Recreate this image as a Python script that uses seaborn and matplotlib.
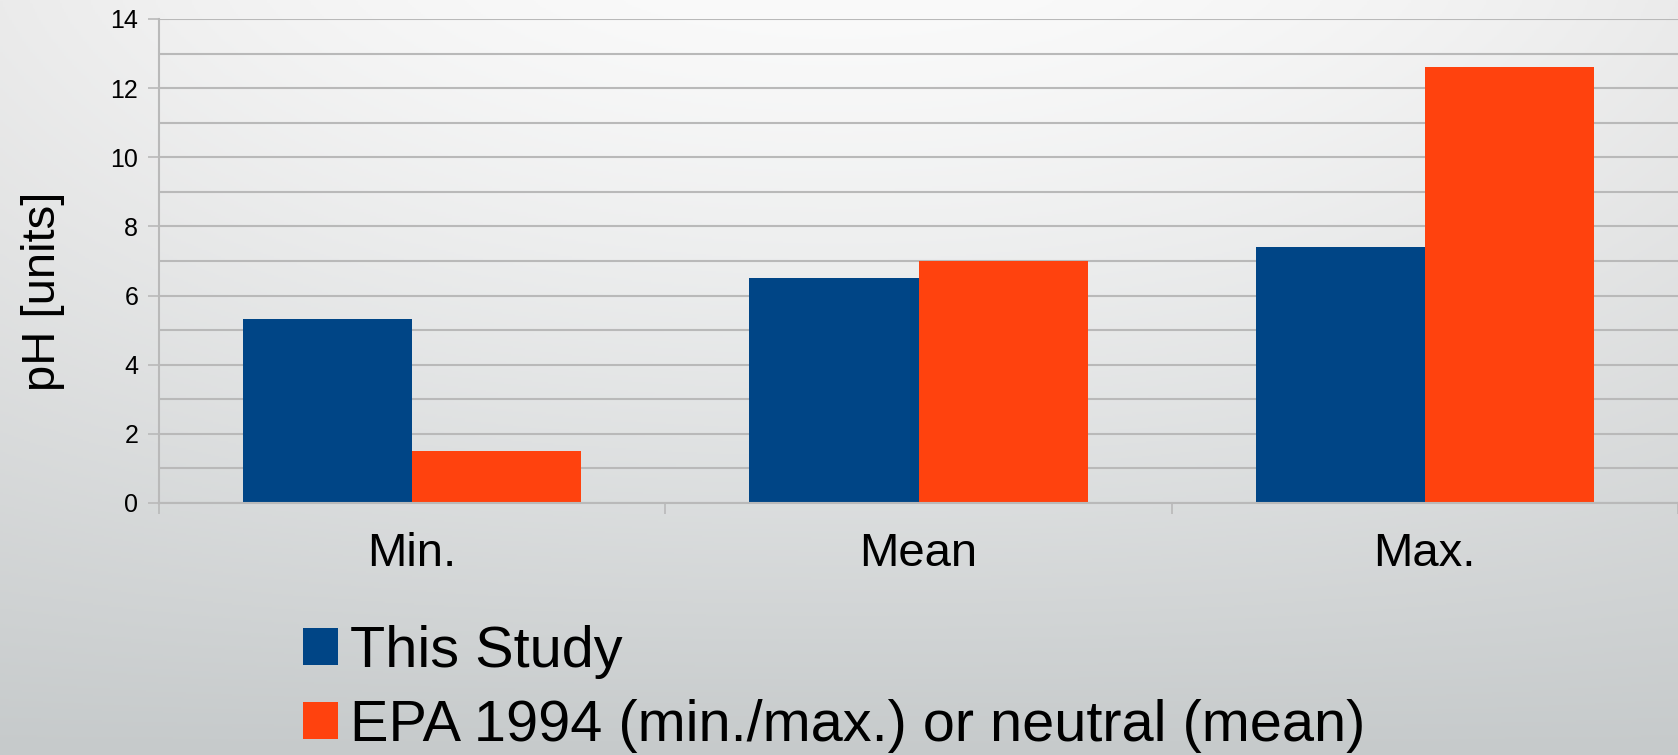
import numpy as np
import pandas as pd
import matplotlib
matplotlib.use("Agg")
import matplotlib.pyplot as plt
import seaborn as sns

# pH statistics
categories = ["Min.", "Mean", "Max."]
series_names = ["This Study", "EPA 1994 (min./max.) or neutral (mean)"]
this_study = [5.33, 6.5, 7.4]
epa_1994 = [1.5, 7.0, 12.6]
series_colors = ["#004586", "#ff420e"]

df = pd.DataFrame({
    "stat": categories * 2,
    "source": [series_names[0]] * len(categories) + [series_names[1]] * len(categories),
    "pH": this_study + epa_1994,
})

sns.set_theme(style="white")
plt.rcParams["font.family"] = ["Liberation Sans", "DejaVu Sans"]
plt.rcParams["text.color"] = "black"

W, H, DPI = 1678, 755, 100
fig = plt.figure(figsize=(W / DPI, H / DPI), dpi=DPI)

# soft grey gradient backdrop
bg = fig.add_axes([0, 0, 1, 1], zorder=-10)
yy, xx = np.mgrid[0:1:400j, 0:1:800j]
t = yy ** 1.3
top = np.array([250, 250, 250], float)
bottom = np.array([198, 202, 203], float)
img = top[None, None, :] + (bottom - top)[None, None, :] * t[..., None]
edge = (2 * np.abs(xx - 0.5)) ** 2 * (1 - t)
img -= 15 * edge[..., None]
bg.imshow(np.clip(img, 0, 255).astype(np.uint8), aspect="auto", extent=[0, 1, 0, 1])
bg.set_axis_off()

ax = fig.add_axes([159 / W, 1 - 503 / H, (W - 159) / W, 484 / H])
ax.set_facecolor("none")

sns.barplot(data=df, x="stat", y="pH", hue="source", palette=series_colors,
            width=0.668, saturation=1, ax=ax, errorbar=None, linewidth=0, edgecolor="none")

ax.set_xlim(-0.5, 2.5)
ax.set_ylim(0, 14)
ax.set_xlabel("")
ax.set_ylabel("")

grid_c = "#b9b9b9"
ax.set_yticks(range(0, 15, 2))
ax.set_yticks(range(1, 15, 2), minor=True)
ax.grid(axis="y", which="both", color=grid_c, lw=1.5)
ax.grid(axis="x", visible=False)
ax.set_axisbelow(True)

for s in ["top", "right"]:
    ax.spines[s].set_visible(False)
for s in ["left", "bottom"]:
    ax.spines[s].set_color(grid_c)
    ax.spines[s].set_linewidth(1.5)

ax.set_xticks(np.arange(len(categories)))
ax.set_xticklabels(categories)
ax.set_xticks(np.arange(-0.5, len(categories)), minor=True)
ax.tick_params(axis="x", which="major", length=0, pad=21, labelsize=34, labelcolor="black")
ax.tick_params(axis="x", which="minor", length=8, width=1.2, color=grid_c, direction="out", bottom=True)
ax.tick_params(axis="y", which="major", length=8, width=1.2, color=grid_c, direction="out",
               left=True, pad=7, labelsize=18, labelcolor="black")
ax.tick_params(axis="y", which="minor", length=0)

handles, labels = ax.get_legend_handles_labels()
ax.get_legend().remove()
for h in handles:
    h.set_edgecolor("none")
    h.set_linewidth(0)
leg = fig.legend(handles, labels, loc="upper left", bbox_to_anchor=(303 / W, 1 - 625 / H),
                 frameon=False, fontsize=41.5, handlelength=0.6, handleheight=0.6,
                 handletextpad=0.21, labelspacing=0.345, borderpad=0, borderaxespad=0)
for txt in leg.get_texts():
    txt.set_color("black")

fig.text(43 / W, 1 - 291 / H, "pH [units]", rotation=90, ha="center", va="center",
         fontsize=34, color="black")

fig.savefig("out.png", dpi=DPI)
